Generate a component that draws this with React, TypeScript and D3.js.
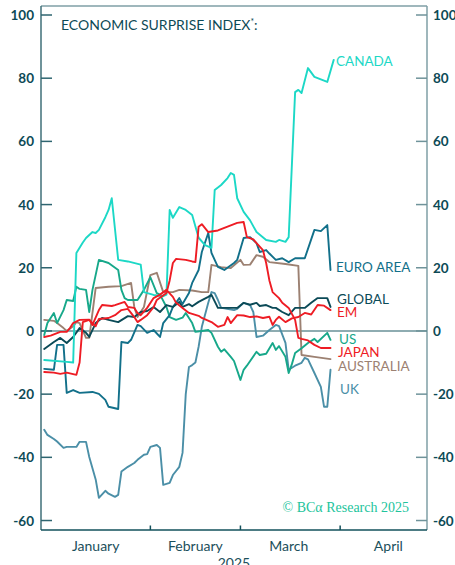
import React, { useEffect } from "react";
import * as d3 from "d3";

type Pt = [string, number];

// Dates are "MM-DD" (December = 2024, others = 2025)
const canada: Pt[] = [
  ["12-30", -9.2], ["01-06", -9.8], ["01-08", -10], ["01-09", 24.7], ["01-11", 28], ["01-12", 29.4],
  ["01-14", 31.3], ["01-15", 31], ["01-16", 32], ["01-18", 36], ["01-19", 38.3], ["01-20", 42],
  ["01-22", 22.5], ["01-25", 22], ["01-29", 21], ["01-30", 12.3], ["02-02", 11.4], ["02-05", 11],
  ["02-06", 11.5], ["02-07", 38.3], ["02-08", 35.8], ["02-10", 39.2], ["02-12", 38.3], ["02-14", 36.7],
  ["02-16", 29.5], ["02-18", 27.2], ["02-20", 26.3], ["02-21", 44.6], ["02-23", 46.2], ["02-25", 48.4],
  ["02-26", 50], ["02-27", 49.4], ["02-28", 42], ["03-02", 37.7], ["03-04", 35], ["03-06", 31.3],
  ["03-09", 28.8], ["03-12", 28.2], ["03-13", 28.8], ["03-15", 28.2], ["03-16", 29.7], ["03-18", 75.6],
  ["03-19", 76.3], ["03-20", 75.3], ["03-22", 83.2], ["03-24", 80.4], ["03-28", 78.8], ["03-30", 85.8],
];

const euroArea: Pt[] = [
  ["12-30", -12], ["01-02", -12.3], ["01-03", -4.4], ["01-05", -4.4], ["01-06", -19.6], ["01-08", -18.7],
  ["01-10", -19.6], ["01-14", -19.3], ["01-16", -19.9], ["01-18", -21.8], ["01-19", -24], ["01-22", -24.7],
  ["01-23", -3.5], ["01-25", -3.8], ["01-26", -2.8], ["01-28", 1.9], ["01-29", 1.5], ["01-31", -0.6],
  ["02-02", 0.3], ["02-04", -1.9], ["02-05", 2.5], ["02-07", 5], ["02-08", 7.6], ["02-10", 10.4],
  ["02-11", 8.5], ["02-13", 12], ["02-14", 15.2], ["02-16", 19.3], ["02-17", 25], ["02-19", 31],
  ["02-20", 24.7], ["02-22", 20.3], ["02-24", 19.3], ["02-27", 21.5], ["02-28", 22.5], ["03-02", 29.4],
  ["03-04", 29.7], ["03-06", 27.8], ["03-07", 25], ["03-09", 25.6], ["03-10", 24.5], ["03-12", 22.5],
  ["03-14", 23], ["03-16", 21.8], ["03-18", 23], ["03-21", 23], ["03-24", 32], ["03-26", 31.6],
  ["03-28", 33.5], ["03-29", 19.3],
];

const global: Pt[] = [
  ["12-30", -5.7], ["01-02", -3.5], ["01-04", -2.2], ["01-06", -3.8], ["01-08", -1.9], ["01-10", 0.9],
  ["01-12", -0.6], ["01-13", -1.9], ["01-15", 2.5], ["01-17", 4.1], ["01-19", 3.5], ["01-22", 2.8],
  ["01-25", 4.7], ["01-27", 4.4], ["01-29", 6], ["01-31", 6.3], ["02-02", 7.6], ["02-04", 6],
  ["02-06", 8.2], ["02-08", 7.6], ["02-10", 9.2], ["02-11", 7.6], ["02-13", 8.5], ["02-14", 7.8],
  ["02-16", 9.2], ["02-19", 10.8], ["02-20", 11.4], ["02-22", 7.3], ["02-25", 7.3], ["02-28", 7.3],
  ["03-02", 8.9], ["03-04", 8.3], ["03-06", 8.9], ["03-07", 7.9], ["03-09", 8.2], ["03-11", 7.3],
  ["03-12", 7.3], ["03-14", 6], ["03-16", 5], ["03-18", 7.3], ["03-21", 7.3], ["03-23", 8.9],
  ["03-25", 10.4], ["03-28", 10.4], ["03-29", 7.6],
];

const em: Pt[] = [
  ["12-30", -1.9], ["01-01", -1.5], ["01-04", -0.3], ["01-06", -0.3], ["01-07", 0.9], ["01-08", 2.5],
  ["01-10", 3.5], ["01-13", 3.6], ["01-14", 1.9], ["01-16", 6.6], ["01-17", 8.2], ["01-20", 7.9],
  ["01-21", 8.2], ["01-24", 9.2], ["01-25", 7.6], ["01-27", 7.3], ["01-28", 5.7], ["01-29", 5],
  ["01-31", 7.3], ["02-02", 10.4], ["02-04", 11.5], ["02-06", 13], ["02-08", 10.8], ["02-09", 8.9],
  ["02-11", 7.3], ["02-13", 5.7], ["02-16", 4.8], ["02-17", 4.1], ["02-20", 2.8], ["02-22", 1.3],
  ["02-24", 1.9], ["02-25", 4.4], ["02-26", 2.5], ["02-28", 5], ["03-02", 4.9], ["03-04", 4.4],
  ["03-06", 4.6], ["03-08", 4.1], ["03-10", 4.5], ["03-11", 1.9], ["03-12", 3.5], ["03-13", 4.5],
  ["03-15", 2.8], ["03-17", 4], ["03-19", 4.4], ["03-21", 5.7], ["03-23", 5.2], ["03-25", 8.2],
  ["03-27", 8], ["03-29", 6.6],
];

const us: Pt[] = [
  ["12-30", -1.3], ["12-31", 2.5], ["01-02", 5.7], ["01-03", 2.5], ["01-05", 6.6], ["01-06", 9.8],
  ["01-08", 9.5], ["01-09", 14], ["01-10", 13.3], ["01-12", 13], ["01-13", 6], ["01-14", 13],
  ["01-16", 22.5], ["01-19", 21.5], ["01-22", 19.3], ["01-23", 13], ["01-24", 10.4], ["01-25", 9.8],
  ["01-28", 9.8], ["01-30", 13], ["02-01", 17], ["02-03", 12], ["02-04", 11.5], ["02-06", 7.6],
  ["02-07", 4.4], ["02-09", 3.5], ["02-11", 4.2], ["02-12", 5.7], ["02-14", 2.5], ["02-15", -0.3],
  ["02-17", 0], ["02-19", 0.3], ["02-20", -0.6], ["02-22", -5], ["02-23", -6.6], ["02-24", -5.8],
  ["02-26", -8.2], ["02-27", -9.5], ["03-01", -15.5], ["03-02", -12.3], ["03-03", -11], ["03-06", -6.6],
  ["03-07", -7.6], ["03-09", -7.2], ["03-11", -3.8], ["03-12", -6], ["03-13", -4.8], ["03-15", -8.2],
  ["03-16", -13.3], ["03-17", -10.5], ["03-18", -7], ["03-20", -5.5], ["03-22", -3.8], ["03-24", -2.5],
  ["03-25", -3.5], ["03-28", -0.6], ["03-29", -2.8],
];

const japan: Pt[] = [
  ["12-30", -13], ["01-02", -13.2], ["01-04", -13.6], ["01-06", -13.2], ["01-09", -13.9], ["01-10", -10],
  ["01-11", 2.8], ["01-13", 3.5], ["01-15", 1.5], ["01-16", 3.8], ["01-19", 4.1], ["01-21", 5],
  ["01-23", 6.6], ["01-25", 7], ["01-27", 4.4], ["01-28", 2.8], ["01-29", 3.5], ["01-31", 5],
  ["02-02", 7.5], ["02-03", 9.8], ["02-06", 12], ["02-07", 16], ["02-08", 21.5], ["02-09", 22.8],
  ["02-12", 22.5], ["02-14", 22], ["02-15", 21.8], ["02-16", 33], ["02-17", 33.8], ["02-19", 31.3],
  ["02-22", 31.8], ["02-25", 33], ["02-28", 34.2], ["03-02", 34.5], ["03-03", 29.7], ["03-05", 29],
  ["03-06", 27.8], ["03-08", 25.6], ["03-09", 21.5], ["03-10", 16], ["03-11", 12.3], ["03-13", 10.4],
  ["03-14", 8.9], ["03-16", 7.3], ["03-18", 3.5], ["03-19", -2.2], ["03-20", -2.5], ["03-22", -3],
  ["03-24", -4.4], ["03-26", -5.4], ["03-29", -5.4],
];

const australia: Pt[] = [
  ["12-30", 3.5], ["01-02", 3.2], ["01-03", 2.5], ["01-05", 0.9], ["01-06", 0], ["01-08", 1.5],
  ["01-09", 2.8], ["01-10", 2.5], ["01-12", -2.2], ["01-13", -2.2], ["01-15", 13.6], ["01-19", 14],
  ["01-23", 14.2], ["01-26", 15.2], ["01-27", 7.6], ["01-28", 4.4], ["01-30", 7.6], ["02-01", 17.7],
  ["02-03", 18.4], ["02-05", 12.3], ["02-08", 12.3], ["02-10", 13], ["02-14", 12.8], ["02-17", 12.3],
  ["02-19", 12.3], ["02-20", 20.9], ["02-23", 20.2], ["02-26", 19.9], ["03-01", 22.5], ["03-02", 20.9],
  ["03-04", 21], ["03-06", 24], ["03-08", 23.5], ["03-10", 21.8], ["03-15", 21.2], ["03-19", 20.6],
  ["03-20", -7.6], ["03-24", -8.2], ["03-29", -8.9],
];

const uk: Pt[] = [
  ["12-30", -31.3], ["12-31", -32.9], ["01-02", -34.2], ["01-03", -35], ["01-05", -37], ["01-06", -36.7],
  ["01-09", -36.7], ["01-10", -35.1], ["01-12", -35.1], ["01-13", -39.9], ["01-15", -47], ["01-16", -52.8],
  ["01-18", -50.6], ["01-19", -51.5], ["01-21", -52.5], ["01-22", -51.9], ["01-23", -44.5], ["01-25", -43],
  ["01-27", -41.8], ["01-28", -40.8], ["01-30", -39.2], ["01-31", -39], ["02-01", -36.7], ["02-03", -36.1],
  ["02-04", -37], ["02-05", -48.7], ["02-07", -48.1], ["02-08", -45.6], ["02-10", -43], ["02-11", -38.6],
  ["02-12", -20], ["02-13", -11.4], ["02-14", -10.8], ["02-15", -10], ["02-16", -5], ["02-17", 1.3],
  ["02-19", 8.9], ["02-20", 12.3], ["02-21", 12], ["02-22", 9.8], ["02-23", 7.3], ["02-24", 7.2],
  ["02-27", 6.6], ["02-28", 7], ["03-02", 8.9], ["03-04", 8.2], ["03-05", 6], ["03-06", -1.9],
  ["03-08", -1.5], ["03-10", 0.3], ["03-12", 1.9], ["03-13", 1.5], ["03-15", -3.8], ["03-16", -12.3],
  ["03-18", -11], ["03-20", -10.1], ["03-21", -8.5], ["03-22", -9], ["03-24", -13.3], ["03-26", -17.7],
  ["03-27", -24], ["03-28", -24], ["03-29", -12.3],
];

const yTicks = [-60, -40, -20, 0, 20, 40, 60, 80, 100];
const monthTicks = ["02-01", "03-01", "04-01"];
const monthNames = ["January", "February", "March", "April"];
const monthLabelDates = ["01-15", "02-15", "03-16", "04-16"];

const SERIES = [
  { name: "UK", color: "#4b8fa7", data: uk },
  { name: "AUSTRALIA", color: "#9c8172", data: australia },
  { name: "US", color: "#17a88a", data: us },
  { name: "EURO AREA", color: "#12708a", data: euroArea },
  { name: "GLOBAL", color: "#0b4a57", data: global },
  { name: "CANADA", color: "#1cd8c6", data: canada },
  { name: "EM", color: "#ee1c24", data: em },
  { name: "JAPAN", color: "#ee1c24", data: japan },
];

const LABEL_POS: Record<string, [number, number]> = {
  CANADA: [336, 66],
  "EURO AREA": [336, 272],
  GLOBAL: [337, 304],
  EM: [337, 317],
  US: [339, 344],
  JAPAN: [338, 357],
  AUSTRALIA: [338, 371],
  UK: [340, 394],
};

function parse(s: string): Date {
  const [m, d] = s.split("-").map(Number);
  return new Date(m === 12 ? 2024 : 2025, m - 1, d);
}

export default function App() {
  useEffect(() => {
    document.body.style.margin = "0";
  }, []);
  const W = 455, H = 565;
  const left = 41, right = 427, top = 6, bottom = 530;
  const x = d3.scaleTime().domain([new Date(2024, 11, 29), new Date(2025, 3, 28)]).range([left, right]);
  const y = d3.scaleLinear().domain([-63, 102.85]).range([bottom, top]);
  const line = d3.line<Pt>().x((p) => x(parse(p[0]))).y((p) => y(p[1]));
  const font = "Lato, 'Open Sans', sans-serif";
  const dark = "#0d4a56";

  return (
    <svg width={W} height={H} style={{ display: "block", position: "absolute", left: 0, top: 0 }} fontFamily={font}>
      <rect x={0} y={0} width={W} height={H} fill="#ffffff" />
      {/* frame */}
      <line x1={left} x2={right} y1={top} y2={top} stroke="#7f9fa6" strokeWidth={1.5} />
      <line x1={right} x2={right} y1={top} y2={bottom} stroke="#7f9fa6" strokeWidth={1.5} />
      <line x1={left} x2={left} y1={top} y2={bottom} stroke="#3f6f79" strokeWidth={1.5} />
      <line x1={left} x2={right} y1={bottom} y2={bottom} stroke="#12505b" strokeWidth={1.5} />
      {/* zero line */}
      <line x1={left} x2={right} y1={y(0)} y2={y(0)} stroke="#1f5a65" strokeWidth={1.1} />
      {/* y ticks */}
      {yTicks.map((t) => (
        <g key={t}>
          <line x1={left} x2={left + 11} y1={y(t)} y2={y(t)} stroke="#2e6570" strokeWidth={1.5} />
          <line x1={right - 11} x2={right} y1={y(t)} y2={y(t)} stroke="#6f939a" strokeWidth={1.5} />
          <text x={34} y={y(t) + 5} textAnchor="end" fontSize={13.5} fontWeight={700} fill={dark}>
            {t}
          </text>
          <text x={433} y={y(t) + 5} textAnchor="start" fontSize={13.5} fontWeight={700} fill={dark}>
            {t}
          </text>
        </g>
      ))}
      {/* x ticks */}
      {monthTicks.map((m) => (
        <line key={m} x1={x(parse(m))} x2={x(parse(m))} y1={bottom} y2={bottom - 4.5} stroke="#12505b" strokeWidth={1.5} />
      ))}
      {monthNames.map((n, i) => (
        <text key={n} x={x(parse(monthLabelDates[i]))} y={551} textAnchor="middle" fontSize={14} fill="#1b4f5b">
          {n}
        </text>
      ))}
      <text x={234} y={568} textAnchor="middle" fontSize={14} fill="#1b4f5b">2025</text>
      {/* title */}
      <text x={61} y={30} fontSize={14} fill={dark}>
        ECONOMIC SURPRISE INDEX
        <tspan fontSize={8.5} dy={-5}>*</tspan>
        <tspan dy={5}>:</tspan>
      </text>
      {/* lines */}
      {SERIES.map((s) => (
        <path key={s.name} d={line(s.data) || ""} fill="none" stroke={s.color} strokeWidth={1.9} strokeLinejoin="round" strokeLinecap="round" />
      ))}
      {/* labels */}
      {SERIES.map((s) => (
        <text key={s.name} x={LABEL_POS[s.name][0]} y={LABEL_POS[s.name][1]} fontSize={13.5} fill={s.color}>
          {s.name}
        </text>
      ))}
      <text x={409} y={512} textAnchor="end" fontSize={14} fontFamily="'Liberation Serif', serif" fill="#22c49c">
        © BCα Research 2025
      </text>
    </svg>
  );
}
